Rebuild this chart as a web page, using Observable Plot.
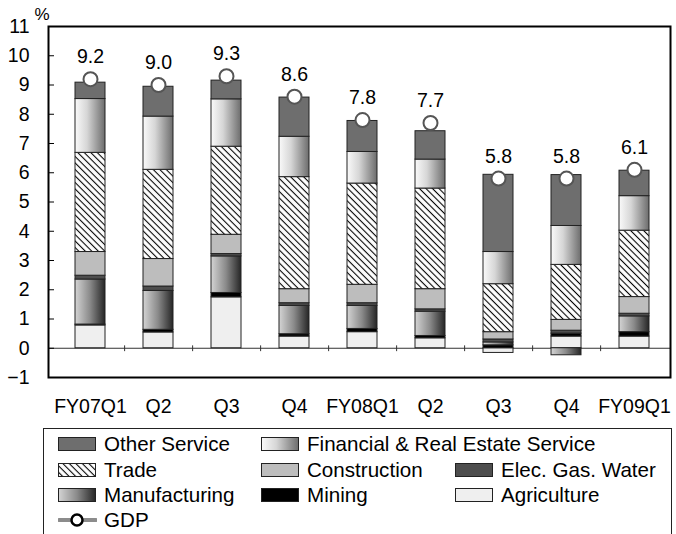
<!DOCTYPE html>
<html>
<head>
<meta charset="utf-8">
<script src="https://cdn.jsdelivr.net/npm/d3@7"></script>
<script src="https://cdn.jsdelivr.net/npm/@observablehq/plot@0.6"></script>
<style>
  body { margin: 0; background: #fff; font-family: "Liberation Sans", Arial, Helvetica, sans-serif; }
  #chart { position: relative; width: 676px; height: 534px; overflow: hidden; }
  .legend { position: absolute; left: 43px; top: 428px; width: 629px; height: 130px;
            border: 1px solid #222; box-sizing: border-box; }
  .item { position: absolute; display: flex; align-items: center; height: 24px;
          font-size: 20.6px; color: #000; white-space: nowrap; }
  .item svg { margin-right: 7px; flex: none; }
</style>
</head>
<body>
<!-- shared fills: gradients and hatching used by bars and legend swatches -->
<svg width="0" height="0" style="position:absolute">
  <defs>
    <linearGradient id="fill-fin" x1="0" x2="1" y1="0" y2="0">
      <stop offset="0" stop-color="#fafafa"/>
      <stop offset="0.4" stop-color="#d6d6d6"/>
      <stop offset="1" stop-color="#6c6c6c"/>
    </linearGradient>
    <linearGradient id="fill-mfg" x1="0" x2="1" y1="0" y2="0">
      <stop offset="0" stop-color="#d4d4d4"/>
      <stop offset="0.5" stop-color="#8a8a8a"/>
      <stop offset="1" stop-color="#262626"/>
    </linearGradient>
    <pattern id="fill-trade" patternUnits="userSpaceOnUse" width="4.6" height="4.6" patternTransform="rotate(45)">
      <rect width="4.6" height="4.6" fill="#fff"/>
      <line x1="0" y1="2.3" x2="4.6" y2="2.3" stroke="#000" stroke-width="1.1"/>
    </pattern>
  </defs>
</svg>

<div id="chart"></div>

<script>
// Quarters (unique keys) and the labels printed under each bar
const quarterIds = ["FY07Q1", "FY07Q2", "FY07Q3", "FY07Q4", "FY08Q1", "FY08Q2", "FY08Q3", "FY08Q4", "FY09Q1"];
const quarterLabels = ["FY07Q1", "Q2", "Q3", "Q4", "FY08Q1", "Q2", "Q3", "Q4", "FY09Q1"];

// Sectors, stacked bottom to top
const sectors = ["Agriculture", "Mining", "Manufacturing", "Elec. Gas. Water", "Construction",
                 "Trade", "Financial & Real Estate Service", "Other Service"];

// Contribution to real GDP growth, percentage points
const agriculture   = [0.78, 0.54, 1.74, 0.40, 0.55, 0.34, -0.16, 0.40, 0.40];
const mining        = [0.03, 0.09, 0.15, 0.08, 0.11, 0.08, 0.10, 0.10, 0.15];
const manufacturing = [1.54, 1.33, 1.25, 0.97, 0.79, 0.83, 0.10, -0.24, 0.54];
const elecGasWater  = [0.13, 0.15, 0.08, 0.09, 0.09, 0.08, 0.10, 0.10, 0.09];
const construction  = [0.81, 0.94, 0.66, 0.48, 0.63, 0.69, 0.25, 0.37, 0.57];
const trade         = [3.39, 3.05, 3.01, 3.83, 3.46, 3.44, 1.64, 1.88, 2.27];
const financial     = [1.84, 1.82, 1.62, 1.38, 1.08, 0.99, 1.10, 1.33, 1.18];
const otherService  = [0.56, 1.02, 0.64, 1.34, 1.06, 0.97, 2.64, 1.74, 0.87];

// Real GDP growth, %
const gdp = [9.2, 9.0, 9.3, 8.6, 7.8, 7.7, 5.8, 5.8, 6.1];

// Y axis ticks
const yTicks = [-1, 0, 1, 2, 3, 4, 5, 6, 7, 8, 9, 10, 11];

const series = [agriculture, mining, manufacturing, elecGasWater, construction, trade, financial, otherService];

const fills = {
  "Agriculture": "#efefef",
  "Mining": "#000000",
  "Manufacturing": "url(#fill-mfg)",
  "Elec. Gas. Water": "#4e4e4e",
  "Construction": "#bdbdbd",
  "Trade": "url(#fill-trade)",
  "Financial & Real Estate Service": "url(#fill-fin)",
  "Other Service": "#6e6e6e"
};

const rows = [];
quarterIds.forEach((q, i) => sectors.forEach((s, j) => rows.push({quarter: q, sector: s, value: series[j][i]})));
const gdpRows = quarterIds.map((q, i) => ({quarter: q, gdp: gdp[i]}));
const labelOf = Object.fromEntries(quarterIds.map((q, i) => [q, quarterLabels[i]]));

const xRange = [55, 669];
const halfStep = (xRange[1] - xRange[0]) / quarterIds.length / 2;
const font = "'Liberation Sans', Arial, Helvetica, sans-serif";

// short upward tick between bands, drawn on the zero line
const tickShape = {draw(context, l) { context.moveTo(0, 0); context.lineTo(0, -l); }};

const chart = Plot.plot({
  width: 676,
  height: 426,
  marginTop: 26,
  marginBottom: 49,
  marginLeft: 48,
  marginRight: 6,
  style: {fontFamily: font, fontSize: "19px", color: "#000", background: "#fff"},
  x: {domain: quarterIds, range: xRange, paddingInner: 0.56, paddingOuter: 0.28},
  y: {domain: [-1, 11]},
  color: {type: "ordinal", domain: sectors, range: sectors.map((s) => fills[s])},
  marks: [
    Plot.ruleY([0], {stroke: "#333", strokeWidth: 1}),
    Plot.barY(rows, {x: "quarter", y: "value", fill: "sector", stroke: "#222", strokeWidth: 1}),
    Plot.vector(quarterIds.slice(0, -1), {x: (d) => d, y: 0, length: 5, shape: tickShape,
                                          dx: halfStep, stroke: "#333", strokeWidth: 1}),
    Plot.dot(gdpRows, {x: "quarter", y: "gdp", r: 7, fill: "#fff", stroke: "#555", strokeWidth: 2}),
    Plot.text(gdpRows, {x: "quarter", y: "gdp", text: (d) => d.gdp.toFixed(1), dy: -22, fontSize: 19.5, fill: "#000"}),
    Plot.axisY({ticks: yTicks, tickSize: 0, tickPadding: 19, fontSize: 19.5, label: null}),
    Plot.axisY({ticks: yTicks, tickSize: 6, dx: 6, tickFormat: () => "", label: null, stroke: "#000"}),
    Plot.axisX({tickSize: 0, tickPadding: 22, fontSize: 19.5, label: null, tickFormat: (d) => labelOf[d]}),
    Plot.frame({stroke: "#000", strokeWidth: 2}),
    Plot.text(["%"], {frameAnchor: "top-left", dx: -14, dy: -19, fontSize: 17, fill: "#000"})
  ]
});

const root = document.getElementById("chart");
root.appendChild(chart);

// Legend: [sector or "GDP", column, row]
const legendItems = [
  ["Other Service", 0, 0], ["Financial & Real Estate Service", 1, 0],
  ["Trade", 0, 1], ["Construction", 1, 1], ["Elec. Gas. Water", 2, 1],
  ["Manufacturing", 0, 2], ["Mining", 1, 2], ["Agriculture", 2, 2],
  ["GDP", 0, 3]
];
const colLeft = [14, 217, 411];
const rowTop = [3, 29, 54, 79];

const legend = document.createElement("div");
legend.className = "legend";
const ns = "http://www.w3.org/2000/svg";
for (const [name, col, row] of legendItems) {
  const item = document.createElement("div");
  item.className = "item";
  item.style.left = colLeft[col] + "px";
  item.style.top = rowTop[row] + "px";
  const sw = document.createElementNS(ns, "svg");
  sw.setAttribute("width", 39);
  sw.setAttribute("height", 16);
  if (name === "GDP") {
    const line = document.createElementNS(ns, "line");
    line.setAttribute("x1", 1); line.setAttribute("x2", 38);
    line.setAttribute("y1", 8); line.setAttribute("y2", 8);
    line.setAttribute("stroke", "#8c8c8c"); line.setAttribute("stroke-width", 4);
    line.setAttribute("stroke-linecap", "round");
    const c = document.createElementNS(ns, "circle");
    c.setAttribute("cx", 19); c.setAttribute("cy", 8); c.setAttribute("r", 5.5);
    c.setAttribute("fill", "#fff"); c.setAttribute("stroke", "#000"); c.setAttribute("stroke-width", 2.5);
    sw.appendChild(line); sw.appendChild(c);
  } else {
    const r = document.createElementNS(ns, "rect");
    r.setAttribute("x", 0.5); r.setAttribute("y", 1.5);
    r.setAttribute("width", 37); r.setAttribute("height", 13);
    r.setAttribute("fill", fills[name]); r.setAttribute("stroke", "#222"); r.setAttribute("stroke-width", 1);
    sw.appendChild(r);
  }
  item.appendChild(sw);
  const t = document.createElement("span");
  t.textContent = name;
  item.appendChild(t);
  legend.appendChild(item);
}
root.appendChild(legend);
</script>
</body>
</html>
